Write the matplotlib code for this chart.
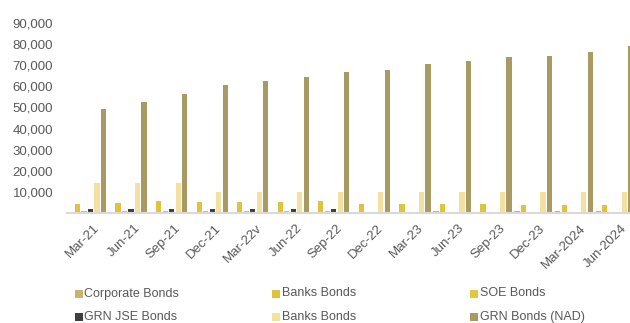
import numpy as np
import matplotlib.pyplot as plt
import matplotlib.transforms as mtransforms
from matplotlib.patches import Rectangle

plt.rcParams['font.family'] = ['Liberation Sans', 'DejaVu Sans']

# quarters on the x axis
quarters = ['Mar-21', 'Jun-21', 'Sep-21', 'Dec-21', 'Mar-22v', 'Jun-22', 'Sep-22',
            'Dec-22', 'Mar-23', 'Jun-23', 'Sep-23', 'Dec-23', 'Mar-2024', 'Jun-2024']

# outstanding amounts per bond type
corporate = [0, 0, 0, 0, 0, 0, 0, 300, 300, 600, 500, 600, 900, 800]
banks = [4100, 4600, 5500, 5100, 5100, 5200, 5400, 4100, 4100, 4100, 4000, 3500, 3800, 3500]
soe = [700, 600, 700, 700, 600, 700, 700, 500, 500, 0, 0, 0, 0, 0]
grn_jse = [1600, 1600, 1600, 1600, 1600, 1700, 1700, 300, 300, 300, 300, 300, 300, 300]
banks_2 = [14000, 14000, 14000, 10000, 10000, 10000, 10000, 10000, 10000, 10000, 10000, 10000, 10000, 10000]
grn_nad = [49500, 52500, 56500, 60500, 62500, 64500, 67000, 68000, 70500, 72000, 74000, 74500, 76500, 79000]

series = [
    ('Corporate Bonds', corporate, '#C9B46C'),
    ('Banks Bonds', banks, '#DFC33D'),
    ('SOE Bonds', soe, '#E3C63E'),
    ('GRN JSE Bonds', grn_jse, '#433E3E'),
    ('Banks Bonds', banks_2, '#F4E0A1'),
    ('GRN Bonds (NAD)', grn_nad, '#A99A64'),
]

W, H = 630, 323
fig = plt.figure(figsize=(W / 100, H / 100), dpi=100)
ax = fig.add_axes([67 / W, 1 - 212.7 / H, (634.7 - 67) / W, (212.7 - 23.3) / H])

x = np.arange(len(quarters))
slot = 0.1603
for k, (name, vals, col) in enumerate(series):
    ax.bar(x + (k - 2.5) * slot, vals, width=0.128, color=col, linewidth=0)

ax.set_xlim(-0.5, len(quarters) - 0.5)
ax.set_ylim(0, 90000)
ax.set_yticks(np.arange(10000, 90001, 10000))
ax.set_yticklabels([f'{v:,}' for v in range(10000, 90001, 10000)])
ax.set_xticks(x)
ax.set_xticklabels(quarters, rotation=45, ha='right', rotation_mode='anchor')
ax.tick_params(axis='both', length=0, labelsize=9.5, labelcolor='#595959')
ax.tick_params(axis='x', pad=4)
ax.tick_params(axis='y', pad=10)

# nudge the slanted quarter labels right and down from their ticks
shift = mtransforms.ScaledTranslation(6 / 100, -4 / 100, fig.dpi_scale_trans)
for lbl in ax.get_xticklabels():
    lbl.set_transform(lbl.get_transform() + shift)

for s in ['top', 'right', 'left']:
    ax.spines[s].set_visible(False)
ax.spines['bottom'].set_color('#D9D9D9')
ax.spines['bottom'].set_linewidth(1.5)

# legend laid out as a 3 x 2 grid below the chart
col_x = [74.5, 272, 470]
row_y = [293.5, 317]
for k, (name, vals, col) in enumerate(series):
    cx = col_x[k % 3]
    cy = row_y[k // 3]
    fig.patches.append(Rectangle((cx / W, 1 - (cy + 4) / H), 8 / W, 8 / H,
                                 transform=fig.transFigure, color=col, linewidth=0))
    fig.text((cx + 10) / W, 1 - cy / H, name, fontsize=9, color='#595959', va='center')

fig.savefig('out.png', dpi=100)
